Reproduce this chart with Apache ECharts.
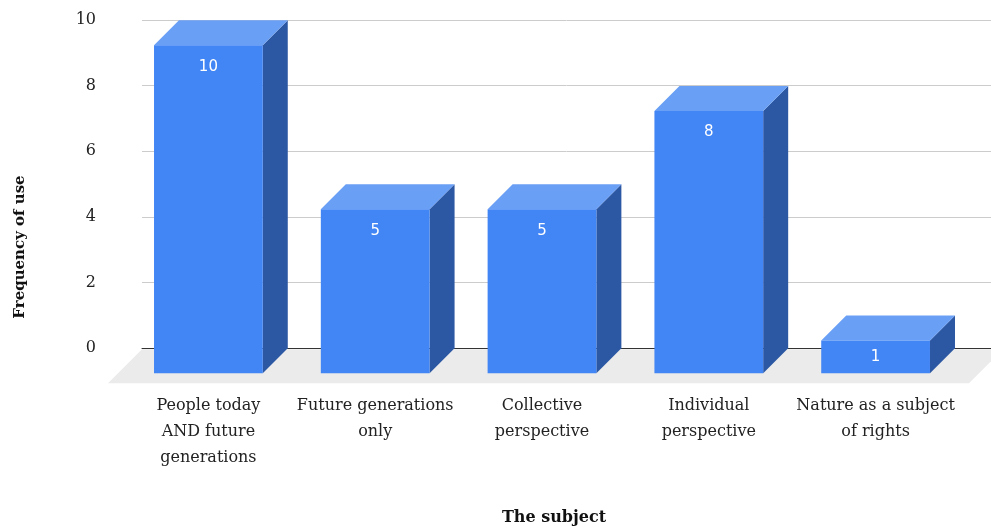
<!DOCTYPE html>
<html>
<head>
<meta charset="utf-8">
<script src="https://cdn.jsdelivr.net/npm/echarts@6/dist/echarts.min.js"></script>
<style>
  html, body { margin: 0; padding: 0; background: #ffffff; }
  #chart { width: 991px; height: 528px; }
</style>
</head>
<body>
<div id="chart"></div>
<script>
// Subject categories (x axis) and how often each is used
const categories = [
  'People today\nAND future\ngenerations',
  'Future generations\nonly',
  'Collective\nperspective',
  'Individual\nperspective',
  'Nature as a subject\nof rights'
];
const frequencies = [10, 5, 5, 8, 1];

// Value axis ticks
const yMin = 0;
const yMax = 10;
const yStep = 2;

// 3D look: depth offset of the bar boxes and floor, in pixels
const DEPTH = 25;
const FLOOR_DEPTH = 34;
const FRONT = '#4285f4';
const TOP = '#6a9ff6';
const SIDE = '#2c57a3';
const SERIF = "'DejaVu Serif', serif";

const chart = echarts.init(document.getElementById('chart'), null, { renderer: 'canvas' });

function renderFloor(params, api) {
  const cs = params.coordSys;
  const zy = cs.y + cs.height + 1;
  const xr = cs.x + cs.width + 12;
  return {
    type: 'polygon',
    silent: true,
    shape: {
      points: [
        [cs.x, zy], [xr, zy],
        [xr - FLOOR_DEPTH, zy + FLOOR_DEPTH], [cs.x - FLOOR_DEPTH, zy + FLOOR_DEPTH]
      ]
    },
    style: { fill: '#ebebeb' }
  };
}

function renderBar(params, api) {
  const i = api.value(0);
  const v = api.value(1);
  const top = api.coord([i, v]);
  const base = api.coord([i, 0]);
  const w = api.size([1, 0])[0] * 0.652;
  const x0 = top[0] - w / 2;
  const x1 = top[0] + w / 2;
  const y0 = top[1];
  const y1 = base[1];
  const h = y1 - y0;
  const d = DEPTH;
  return {
    type: 'group',
    children: [
      {
        type: 'polygon',
        shape: { points: [[x1, y0], [x1 + d, y0 - d], [x1 + d, y1 - d], [x1, y1]] },
        style: { fill: SIDE }
      },
      {
        type: 'polygon',
        shape: { points: [[x0, y0], [x1, y0], [x1 + d, y0 - d], [x0 + d, y0 - d]] },
        style: { fill: TOP }
      },
      {
        type: 'rect',
        shape: { x: x0, y: y0, width: w, height: h },
        style: { fill: FRONT }
      },
      {
        type: 'text',
        x: top[0],
        y: y0 + Math.min(21.5, h / 2),
        style: {
          text: String(v),
          fill: '#ffffff',
          font: "15px 'DejaVu Sans', sans-serif",
          align: 'center',
          verticalAlign: 'middle'
        }
      }
    ]
  };
}

chart.setOption({
  animation: false,
  backgroundColor: '#ffffff',
  grid: [
    // back plane: gridlines and value labels
    { left: 142, right: 0, top: 20, bottom: 179.7 },
    // front plane: bar faces and category labels
    { left: 125, right: 32, top: 45.3, bottom: 154.7 }
  ],
  xAxis: [
    {
      gridIndex: 0,
      type: 'category',
      data: categories,
      axisLine: { show: true, lineStyle: { color: '#333333', width: 1 } },
      axisTick: { show: false },
      axisLabel: { show: false },
      splitLine: { show: false }
    },
    {
      gridIndex: 1,
      type: 'category',
      data: categories,
      axisLine: { show: false },
      axisTick: { show: false },
      splitLine: { show: false },
      axisLabel: {
        interval: 0,
        margin: 20,
        color: '#222222',
        fontFamily: SERIF,
        fontSize: 16,
        lineHeight: 26,
        align: 'center'
      }
    }
  ],
  yAxis: [
    {
      gridIndex: 0,
      type: 'value',
      min: yMin,
      max: yMax,
      interval: yStep,
      axisLine: { show: false },
      axisTick: { show: false },
      splitLine: { show: true, lineStyle: { color: '#cccccc', width: 1 } },
      axisLabel: {
        margin: 46,
        color: '#222222',
        fontFamily: SERIF,
        fontSize: 16
      }
    },
    {
      gridIndex: 1,
      type: 'value',
      min: yMin,
      max: yMax,
      interval: yStep,
      show: false,
      splitLine: { show: false }
    }
  ],
  graphic: [
    {
      type: 'text',
      x: 20,
      y: 247,
      rotation: Math.PI / 2,
      style: {
        text: 'Frequency of use',
        font: "bold 15px 'DejaVu Serif', serif",
        fill: '#111111',
        align: 'center',
        verticalAlign: 'middle'
      }
    },
    {
      type: 'text',
      x: 554,
      y: 518,
      style: {
        text: 'The subject',
        font: "bold 16px 'DejaVu Serif', serif",
        fill: '#111111',
        align: 'center',
        verticalAlign: 'middle'
      }
    }
  ],
  series: [
    {
      type: 'custom',
      name: 'floor',
      xAxisIndex: 0,
      yAxisIndex: 0,
      silent: true,
      z: 0,
      data: [[0, 0]],
      renderItem: renderFloor
    },
    {
      type: 'custom',
      name: 'Frequency of use',
      xAxisIndex: 1,
      yAxisIndex: 1,
      z: 5,
      data: frequencies.map((v, i) => [i, v]),
      encode: { x: 0, y: 1 },
      renderItem: renderBar
    }
  ]
});
</script>
</body>
</html>
